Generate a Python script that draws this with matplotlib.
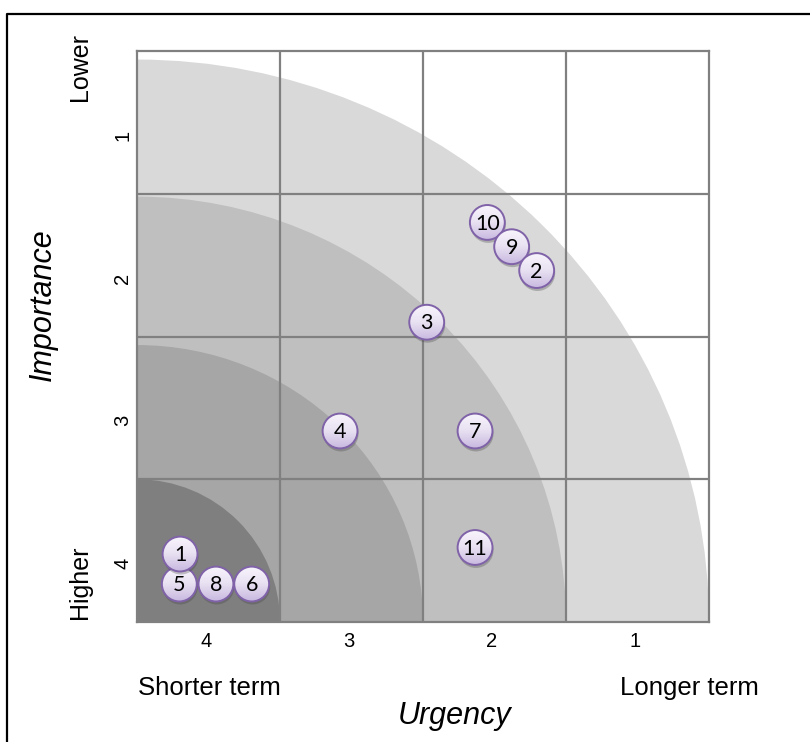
import numpy as np
import matplotlib
matplotlib.use("Agg")
import matplotlib.pyplot as plt
from matplotlib.patches import Ellipse, Circle
from matplotlib.lines import Line2D
from matplotlib.colors import LinearSegmentedColormap

# ---- data ----
labels = ['10', '9', '2', '3', '4', '7', '11', '5', '8', '6', '1']
urgency_pos = [2.45, 2.62, 2.795, 2.026, 1.42, 2.364, 2.364, 0.296, 0.552, 0.802, 0.301]
importance_pos = [2.799, 2.629, 2.462, 2.10, 1.338, 1.338, 0.522, 0.266, 0.266, 0.266, 0.476]
x_tick_labels = ['4', '3', '2', '1']
y_tick_labels = ['1', '2', '3', '4']
band_rx = [4.0, 3.0, 2.0, 1.0]
band_ry = [3.94, 2.98, 1.94, 1.0]
band_colors = ['#d9d9d9', '#bfbfbf', '#a6a6a6', '#7f7f7f']

W, H = 810, 742
fig = plt.figure(figsize=(W / 100, H / 100), dpi=100)
ax = fig.add_axes([137 / W, 120 / H, 572 / W, 571 / H])
ax.set_xlim(0, 4)
ax.set_ylim(0, 4)
ax.set_xticks([])
ax.set_yticks([])
for s in ax.spines.values():
    s.set_color('#808080')
    s.set_linewidth(1.6)
    s.set_zorder(5)

# quarter-circle bands
for rx, ry, c in zip(band_rx, band_ry, band_colors):
    ax.add_patch(Ellipse((0, 0), 2 * rx, 2 * ry, facecolor=c, edgecolor='none', zorder=1))

# grid
for v in [1, 2, 3]:
    ax.axvline(v, color='#808080', lw=1.6, zorder=3)
    ax.axhline(v, color='#808080', lw=1.6, zorder=3)

# bubbles
r = 0.122
cmap = LinearSegmentedColormap.from_list('bub', ['#f8f5fc', '#e8e1f2', '#c9b9e0'])
grad = np.linspace(0, 1, 64).reshape(-1, 1)
z = 10
for lab, x, y in zip(labels, urgency_pos, importance_pos):
    sh = Circle((x + 0.006, y - 0.02), r * 1.01, facecolor='#404040', alpha=0.3,
                edgecolor='none', zorder=z)
    ax.add_patch(sh)
    circ = Circle((x, y), r, facecolor='none', edgecolor='#7f62a8', lw=1.4, zorder=z + 2)
    ax.add_patch(circ)
    clipc = Circle((x, y), r, transform=ax.transData)
    im = ax.imshow(grad, cmap=cmap, extent=[x - r, x + r, y - r, y + r], origin='upper',
                   aspect='auto', zorder=z + 1, interpolation='bilinear')
    im.set_clip_path(clipc)
    ax.text(x, y - 0.008, lab, ha='center', va='center', fontsize=15.5, family='Lato',
            color='black', zorder=z + 3)
    z += 4
ax.set_xlim(0, 4)
ax.set_ylim(0, 4)

# tick labels
for i, t in enumerate(x_tick_labels):
    ax.text(i + 0.5 - 0.02, -0.14, t, ha='center', va='center', fontsize=14.5,
            family='Liberation Sans', clip_on=False)
for i, t in enumerate(y_tick_labels):
    ax.text(-0.1, 4 - (i + 0.5) - 0.09, t, ha='center', va='center', rotation=90,
            fontsize=14.5, family='Liberation Sans', clip_on=False)

# axis descriptions
fig.text(209 / W, 1 - 688 / H, 'Shorter term', ha='center', va='center', fontsize=18.5,
         family='Liberation Sans')
fig.text(689 / W, 1 - 688 / H, 'Longer term', ha='center', va='center', fontsize=18.5,
         family='Liberation Sans')
fig.text(455 / W, 1 - 716 / H, 'Urgency', ha='center', va='center', fontsize=22,
         style='italic', family='Liberation Sans')
fig.text(43 / W, 1 - 305 / H, 'Importance', ha='center', va='center', fontsize=22,
         style='italic', rotation=90, family='Liberation Sans')
fig.text(80 / W, 1 - 67 / H, 'Lower', ha='center', va='center', fontsize=18,
         rotation=90, family='Liberation Sans')
fig.text(80 / W, 1 - 582 / H, 'Higher', ha='center', va='center', fontsize=18,
         rotation=90, family='Liberation Sans')

# outer frame (left and top edges visible)
fig.add_artist(Line2D([7 / W, 7 / W, 1.01], [-0.01, 1 - 14 / H, 1 - 14 / H],
                      color='black', lw=1.6, transform=fig.transFigure))

fig.savefig('out.png', dpi=100)
